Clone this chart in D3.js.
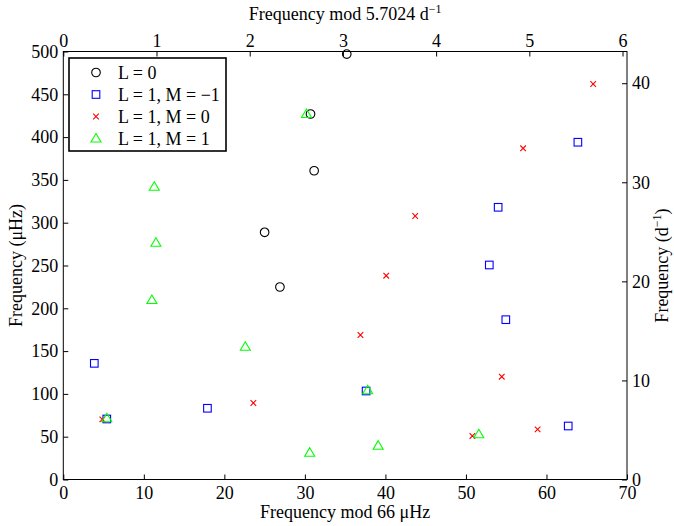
<!DOCTYPE html>
<html>
<head>
<meta charset="utf-8">
<script src="https://cdn.jsdelivr.net/npm/d3@7"></script>
<style>
  html, body { margin: 0; padding: 0; background: #fff; }
  svg text { font-family: "Liberation Serif", "Times New Roman", serif; }
</style>
</head>
<body>
<svg id="chart" width="674" height="526"></svg>
<script>
// ---- Data ----
const seriesNames = ["L = 0", "L = 1, M = \u22121", "L = 1, M = 0", "L = 1, M = 1"];
const l0X = [35.2, 30.7, 31.15, 25.0, 26.9];
const l0Y = [497, 427, 360.7, 288.8, 224.9];
const m1X = [3.85, 17.9, 5.4, 37.6, 52.9, 54.95, 62.7, 63.9, 54.0];
const m1Y = [135.7, 83.2, 70.7, 103.4, 250.6, 186.7, 62.5, 394, 318];
const m0X = [65.8, 57.1, 43.7, 40.1, 36.9, 54.45, 58.9, 50.8, 23.6, 4.85];
const m0Y = [462, 386.9, 307.8, 238.1, 168.8, 120.1, 58.6, 50.8, 89.4, 70.3];
const p1X = [30.2, 11.3, 11.5, 11.0, 22.6, 5.4, 30.6, 39.1, 51.6, 37.8];
const p1Y = [427, 342, 276.6, 209.7, 155.1, 71.5, 31.3, 39.5, 52.8, 104.2];

const bottomTicks = [0, 10, 20, 30, 40, 50, 60, 70];
const leftTicks = [0, 50, 100, 150, 200, 250, 300, 350, 400, 450, 500];
const topTicks = [0, 1, 2, 3, 4, 5, 6];
const rightTicks = [0, 10, 20, 30, 40];
const uHzToPerDay = 0.0864;

(function () {
// ---- Layout ----
const svg = d3.select("#chart");
const pL = 63.3, pR = 627, pT = 51.5, pB = 479.5;
const FS = 18;
const fmt = d3.format("d");

const x = d3.scaleLinear().domain([0, 70]).range([pL, pR]);
const y = d3.scaleLinear().domain([0, 500]).range([pB, pT]);
const xTop = d3.scaleLinear().domain([0, 70 * uHzToPerDay]).range([pL, pR]);
const yRight = d3.scaleLinear().domain([0, 500 * uHzToPerDay]).range([pB, pT]);

svg.append("rect").attr("x", 0).attr("y", 0).attr("width", 674).attr("height", 526).attr("fill", "#fff");

function styleAxis(g) {
  g.select(".domain").remove();
  g.selectAll("line").attr("stroke", "#000").attr("stroke-width", 1);
  g.selectAll("text").attr("font-size", FS).attr("fill", "#000")
    .style("font-family", '"Liberation Serif", serif');
}

const gB = svg.append("g").attr("transform", `translate(0,${pB})`)
  .call(d3.axisBottom(x).tickValues(bottomTicks).tickFormat(fmt).tickSizeInner(-5).tickSizeOuter(0).tickPadding(7));
styleAxis(gB);
const gL = svg.append("g").attr("transform", `translate(${pL},0)`)
  .call(d3.axisLeft(y).tickValues(leftTicks).tickFormat(fmt).tickSizeInner(-5).tickSizeOuter(0).tickPadding(5));
styleAxis(gL);
const gT = svg.append("g").attr("transform", `translate(0,${pT})`)
  .call(d3.axisTop(xTop).tickValues(topTicks).tickFormat(fmt).tickSizeInner(-5).tickSizeOuter(0).tickPadding(5));
styleAxis(gT);
const gR = svg.append("g").attr("transform", `translate(${pR},0)`)
  .call(d3.axisRight(yRight).tickValues(rightTicks).tickFormat(fmt).tickSizeInner(-5).tickSizeOuter(0).tickPadding(5));
styleAxis(gR);

// frame
svg.append("rect").attr("x", pL).attr("y", pT).attr("width", pR - pL).attr("height", pB - pT)
  .attr("fill", "none").attr("stroke", "#000").attr("stroke-width", 1);

// axis titles
svg.append("text").attr("x", (pL + pR) / 2).attr("y", 518).attr("text-anchor", "middle")
  .attr("font-size", FS).text("Frequency mod 66 \u03bcHz");
const tt = svg.append("text").attr("x", (pL + pR) / 2).attr("y", 20).attr("text-anchor", "middle")
  .attr("font-size", FS);
tt.append("tspan").text("Frequency mod 5.7024 d");
tt.append("tspan").attr("dy", -7).attr("font-size", 12).text("\u22121");
svg.append("text").attr("transform", `translate(22,${(pT + pB) / 2}) rotate(-90)`)
  .attr("text-anchor", "middle").attr("font-size", FS).text("Frequency (\u03bcHz)");
const rt = svg.append("text").attr("transform", `translate(668,${(pT + pB) / 2}) rotate(-90)`)
  .attr("text-anchor", "middle").attr("font-size", FS);
rt.append("tspan").text("Frequency (d");
rt.append("tspan").attr("dy", -7).attr("font-size", 12).text("\u22121");
rt.append("tspan").attr("dy", 7).text(")");

// ---- Markers ----
const sym = [
  { color: "#000", shape: "circle" },
  { color: "#0000ff", shape: "square" },
  { color: "#ff0000", shape: "cross" },
  { color: "#00ff00", shape: "triangle" }
];
function drawMarker(g, shape, color) {
  if (shape === "circle") {
    g.append("circle").attr("r", 4.3).attr("fill", "none").attr("stroke", color).attr("stroke-width", 1.1);
  } else if (shape === "square") {
    g.append("rect").attr("x", -3.8).attr("y", -3.8).attr("width", 7.6).attr("height", 7.6)
      .attr("fill", "none").attr("stroke", color).attr("stroke-width", 1.1);
  } else if (shape === "cross") {
    g.append("path").attr("d", "M-2.8,-2.8L2.8,2.8M-2.8,2.8L2.8,-2.8")
      .attr("stroke", color).attr("stroke-width", 1.1);
  } else {
    g.append("path").attr("d", "M0,-5L5,3.5L-5,3.5Z").attr("fill", "none")
      .attr("stroke", color).attr("stroke-width", 1.1);
  }
}
const series = [
  { xs: l0X, ys: l0Y }, { xs: m1X, ys: m1Y }, { xs: m0X, ys: m0Y }, { xs: p1X, ys: p1Y }
];
series.forEach((s, i) => {
  const pts = s.xs.map((v, k) => [v, s.ys[k]]);
  svg.append("g").selectAll("g").data(pts).join("g")
    .attr("transform", d => `translate(${x(d[0])},${y(d[1])})`)
    .each(function () { drawMarker(d3.select(this), sym[i].shape, sym[i].color); });
});

// ---- Legend ----
const lg = svg.append("g");
lg.append("rect").attr("x", 69).attr("y", 58).attr("width", 157).attr("height", 93)
  .attr("fill", "#fff").attr("stroke", "#000").attr("stroke-width", 1.6);
seriesNames.forEach((name, i) => {
  const yy = 72.5 + i * 22;
  const mg = lg.append("g").attr("transform", `translate(96,${yy})`);
  drawMarker(mg, sym[i].shape, sym[i].color);
  lg.append("text").attr("x", 118).attr("y", yy + 6).attr("font-size", FS).text(name);
});
})();
</script>
</body>
</html>
